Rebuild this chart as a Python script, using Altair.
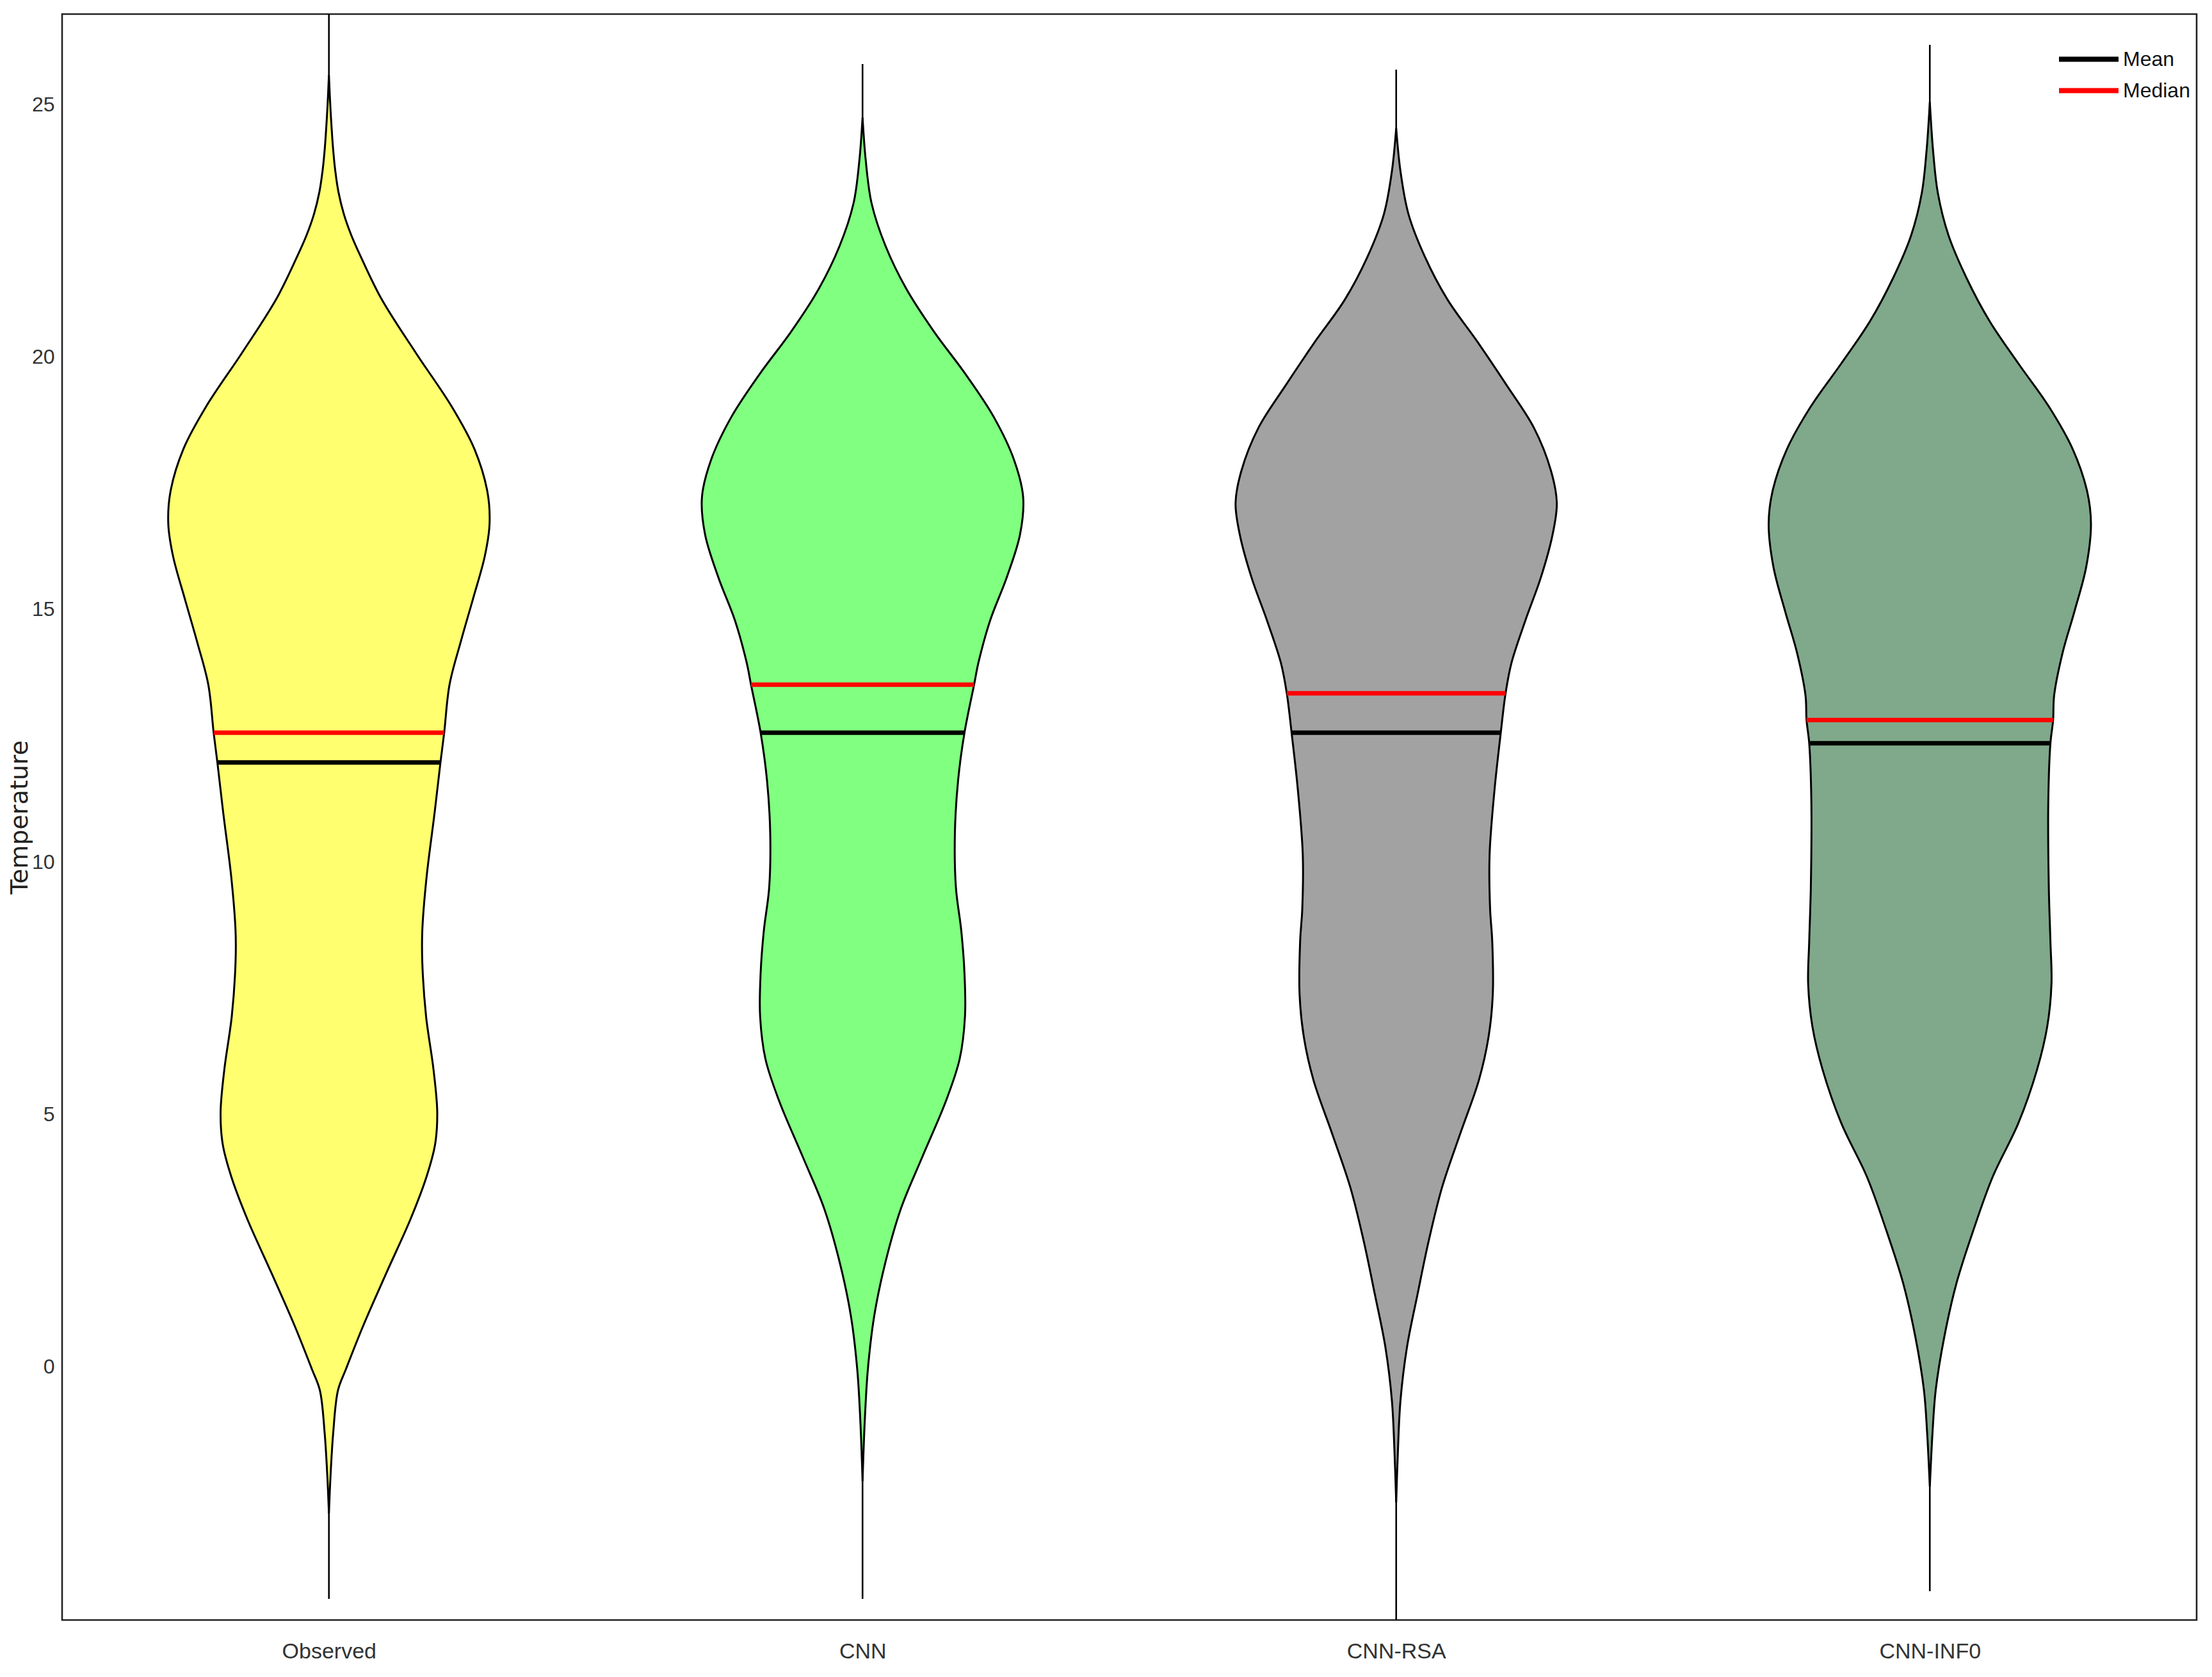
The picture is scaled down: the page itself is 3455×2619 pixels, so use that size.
import altair as alt
import pandas as pd

# ---------------- data ----------------
cats = ["Observed", "CNN", "CNN-RSA", "CNN-INF0"]
fills = ["#FFFF70", "#80FF80", "#A2A2A2", "#7FA98A"]

# violin outlines: temperature levels and half-widths (fraction of category band)
obs_t = [25.58, 24.90, 24.10, 23.68, 23.26, 22.83, 22.41, 21.98, 21.14, 20.08, 19.02, 18.17,
         17.33, 16.69, 16.05, 15.21, 14.36, 13.51, 12.56, 11.97, 10.97, 9.70, 8.64, 8.01, 6.95,
         5.89, 5.04, 4.41, 3.77, 2.93, 1.87, 0.81, -0.04, -0.46, -1.31, -2.16, -2.90]
obs_w = [0.000, 0.003, 0.008, 0.012, 0.018, 0.028, 0.042, 0.060, 0.099, 0.163, 0.230, 0.273,
         0.297, 0.301, 0.292, 0.270, 0.247, 0.226, 0.216, 0.209, 0.198, 0.183, 0.175, 0.175, 0.182,
         0.196, 0.203, 0.199, 0.183, 0.153, 0.108, 0.064, 0.032, 0.017, 0.008, 0.003, 0.000]

cnn_t = [24.74, 23.89, 23.04, 22.20, 21.35, 20.50, 19.66, 18.81, 17.96, 17.22, 16.48, 15.63,
         14.78, 13.94, 13.51, 12.56, 11.61, 10.55, 9.49, 8.64, 7.80, 6.95, 6.10, 5.26, 4.16,
         3.14, 2.08, 1.02, -0.04, -1.10, -2.26]
cnn_w = [0.000, 0.006, 0.017, 0.043, 0.082, 0.134, 0.193, 0.246, 0.284, 0.301, 0.295, 0.270,
         0.239, 0.217, 0.209, 0.191, 0.179, 0.173, 0.175, 0.185, 0.191, 0.192, 0.182, 0.156, 0.112,
         0.072, 0.043, 0.022, 0.010, 0.004, 0.000]

rsa_t = [24.53, 23.68, 22.83, 21.98, 21.14, 20.29, 19.44, 18.60, 17.75, 17.11, 16.48, 15.63,
         14.78, 13.94, 13.34, 12.56, 11.40, 10.13, 9.07, 8.43, 7.37, 6.53, 5.68, 4.62, 3.56,
         2.50, 1.44, 0.38, -0.67, -1.73, -2.68]
rsa_w = [0.000, 0.008, 0.023, 0.054, 0.096, 0.153, 0.207, 0.258, 0.290, 0.301, 0.293, 0.271,
         0.242, 0.216, 0.205, 0.196, 0.184, 0.175, 0.176, 0.180, 0.181, 0.173, 0.155, 0.120, 0.086,
         0.061, 0.040, 0.020, 0.008, 0.003, 0.000]

inf_t = [25.05, 24.10, 23.25, 22.41, 21.56, 20.71, 19.87, 19.02, 18.17, 17.33, 16.69, 15.84,
         14.96, 14.15, 13.30, 12.81, 12.35, 11.18, 9.49, 8.43, 7.59, 6.74, 5.89, 4.83, 3.77,
         2.72, 1.66, 0.59, -0.46, -1.31, -2.37]
inf_w = [0.000, 0.006, 0.015, 0.035, 0.069, 0.112, 0.166, 0.223, 0.268, 0.295, 0.302, 0.293,
         0.271, 0.249, 0.233, 0.231, 0.226, 0.222, 0.223, 0.226, 0.228, 0.220, 0.201, 0.166, 0.118,
         0.082, 0.050, 0.027, 0.011, 0.005, 0.000]

# whisker range (min / max)
mins = [-4.59, -4.59, -5.40, -4.44]
maxs = [27.00, 25.80, 25.69, 26.18]

# mean / median and the half-width of their bars
means = [11.97, 12.56, 12.56, 12.35]
mean_w = [0.209, 0.191, 0.196, 0.226]
medians = [12.56, 13.51, 13.34, 12.81]
median_w = [0.216, 0.209, 0.205, 0.231]

y_ticks = [0, 5, 10, 15, 20, 25]

# ---------------- tables ----------------
profiles = [(obs_t, obs_w), (cnn_t, cnn_w), (rsa_t, rsa_w), (inf_t, inf_w)]
vrows = []
for i, (c, (ts, ws)) in enumerate(zip(cats, profiles)):
    pos = i + 1
    for t, w in zip(ts, ws):
        vrows.append({"cat": c, "t": t, "xl": pos - w, "xr": pos + w})
vdf = pd.DataFrame(vrows)

wdf = pd.DataFrame({"cat": cats, "pos": [i + 1 for i in range(len(cats))], "lo": mins, "hi": maxs})

srows = []
for i, c in enumerate(cats):
    pos = i + 1
    srows.append({"cat": c, "stat": "Median", "v": medians[i], "xl": pos - median_w[i], "xr": pos + median_w[i]})
    srows.append({"cat": c, "stat": "Mean", "v": means[i], "xl": pos - mean_w[i], "xr": pos + mean_w[i]})
sdf = pd.DataFrame(srows)

FONT = "Liberation Sans, Arial, sans-serif"
label_expr = "[''," + ",".join("'%s'" % c for c in cats) + "][datum.value]"

xscale = alt.Scale(domain=[0.5, len(cats) + 0.5], nice=False, zero=False)
yscale = alt.Scale(domain=[-5.01, 26.79], nice=False, zero=False)

xaxis = alt.Axis(values=[1, 2, 3, 4], labelExpr=label_expr, ticks=False, domain=False, grid=False,
                 labelPadding=32, labelFont=FONT, labelFontSize=34, labelColor="#333333",
                 title=None, labelFlush=False)
yaxis = alt.Axis(values=y_ticks, format="d", ticks=False, domain=False, grid=False, labelPadding=12,
                 labelFont=FONT, labelFontSize=32, labelColor="#333333",
                 title="Temperature", titleFont="DejaVu Sans", titleFontSize=38,
                 titleFontWeight="normal", titleColor="#222222",
                 titleX=-66, titleBaseline="middle", titleAlign="center")

whisk = alt.Chart(wdf).mark_rule(color="black", strokeWidth=2.6, clip=True).encode(
    x=alt.X("pos:Q", scale=xscale, axis=xaxis),
    y=alt.Y("lo:Q", scale=yscale, axis=yaxis),
    y2="hi:Q",
)

violins = alt.Chart(vdf).mark_area(orient="horizontal", interpolate="catmull-rom", stroke="black",
                                   strokeWidth=3, opacity=1, clip=True).encode(
    y=alt.Y("t:Q", scale=yscale, sort="ascending"),
    x=alt.X("xl:Q", scale=xscale),
    x2="xr:Q",
    fill=alt.Fill("cat:N", scale=alt.Scale(domain=cats, range=fills), legend=None),
    detail="cat:N",
)

stats = alt.Chart(sdf).mark_rule(strokeWidth=7).encode(
    y=alt.Y("v:Q", scale=yscale),
    x=alt.X("xl:Q", scale=xscale),
    x2="xr:Q",
    stroke=alt.Stroke("stat:N", scale=alt.Scale(domain=["Mean", "Median"], range=["black", "red"]),
                      legend=alt.Legend(title=None, orient="none", legendX=3138, legendY=43,
                                        symbolType="M-2,0H2", symbolSize=2162, symbolStrokeWidth=8,
                                        labelFont=FONT, labelFontSize=32, labelColor="#111111",
                                        padding=0, rowPadding=5, labelOffset=26)),
)

chart = alt.layer(whisk, violins, stats).properties(
    width=3334, height=2508,
    padding={"left": 89, "top": 14, "right": 16, "bottom": 81},
    autosize=alt.AutoSizeParams(type="none"),
).configure_view(stroke="#222222", strokeWidth=2.6)

chart.save("out.html", embed_options={"renderer": "svg", "actions": False})
